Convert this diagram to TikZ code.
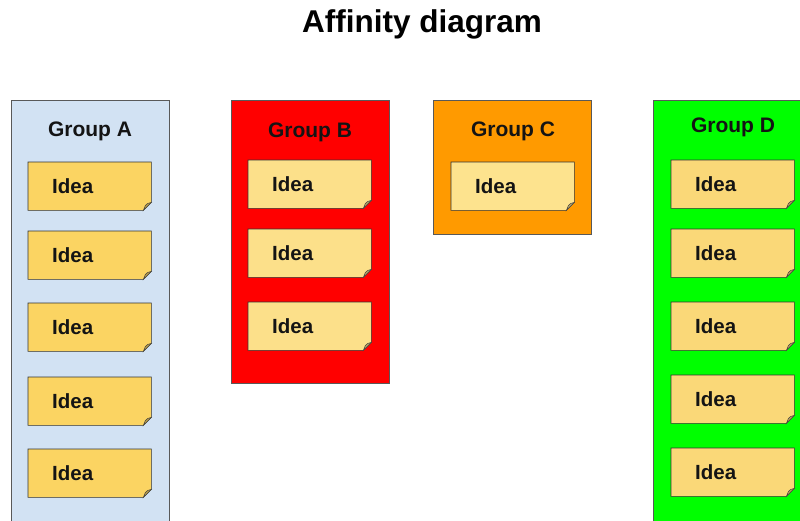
\documentclass[tikz,border=0pt]{standalone}
\usepackage{fontspec}
\setmainfont{Liberation Sans}
\begin{document}
\begin{tikzpicture}[x=1pt,y=-1pt,
  grpbox/.style={draw=black!65, line width=0.7pt, anchor=north west, inner sep=0pt},
  grptitle/.style={font=\bfseries\fontsize{21}{24}\selectfont, text=black!92},
  notebox/.style={anchor=north west, minimum width=123pt, minimum height=48pt,
    inner xsep=24pt, inner ysep=0pt, text width=75pt, align=left,
    font=\bfseries\fontsize{20.5}{24}\selectfont, text=black!92},
  noteedge/.style={draw=black!80, line width=0.6pt},
]
\definecolor{grpA}{HTML}{D2E2F3}
\definecolor{grpB}{HTML}{FF0000}
\definecolor{grpC}{HTML}{FF9A00}
\definecolor{grpD}{HTML}{00FF00}
\definecolor{noteA}{HTML}{FBD462}
\definecolor{noteB}{HTML}{FCE08A}
\definecolor{noteC}{HTML}{FDE38E}
\definecolor{noteD}{HTML}{FAD878}

% sticky note with a folded bottom-right corner
\newcommand{\stickynote}[4]{% name, x, y, colour
  \node[notebox] (#1) at (#2,#3) {Idea};
  \path[noteedge, fill=#4]
    (#1.north west) -- (#1.north east) -- ([yshift=8pt]#1.south east)
    -- ([xshift=-8pt]#1.south east) -- (#1.south west) -- cycle;
  \path[draw=black!75, line width=0.5pt, fill=#4!75!black]
    ([yshift=8pt]#1.south east)
    .. controls ([xshift=-4pt,yshift=7pt]#1.south east) .. ([xshift=-6pt,yshift=5pt]#1.south east)
    .. controls ([xshift=-7pt,yshift=3pt]#1.south east) .. ([xshift=-8pt]#1.south east) -- cycle;
  \node[notebox] at (#2,#3) {Idea};
}

\useasboundingbox (0,0) rectangle (800,520);
\clip (0,0) rectangle (800,520);
\fill[white] (0,0) rectangle (800,520);

\node[font=\bfseries\fontsize{31.5}{36}\selectfont] (title) at (422,24) {Affinity diagram};

% group panels
\node[grpbox, fill=grpA, minimum width=158pt, minimum height=440pt] (gA) at (11,100) {};
\node[grpbox, fill=grpB, minimum width=158pt, minimum height=283pt] (gB) at (231,100) {};
\node[grpbox, fill=grpC, minimum width=158pt, minimum height=134pt] (gC) at (433,100) {};
\node[grpbox, fill=grpD, minimum width=160pt, minimum height=440pt] (gD) at (653,100) {};

\node[grptitle] (tA) at (90,131) {Group A};
\node[grptitle] (tB) at (310,132) {Group B};
\node[grptitle] (tC) at (513,131) {Group C};
\node[grptitle] (tD) at (733,127) {Group D};

% notes, group A
\stickynote{a1}{28}{162}{noteA}
\stickynote{a2}{28}{231}{noteA}
\stickynote{a3}{28}{303}{noteA}
\stickynote{a4}{28}{377}{noteA}
\stickynote{a5}{28}{449}{noteA}
% group B
\stickynote{b1}{248}{160}{noteB}
\stickynote{b2}{248}{229}{noteB}
\stickynote{b3}{248}{302}{noteB}
% group C
\stickynote{c1}{451}{162}{noteC}
% group D
\stickynote{d1}{671}{160}{noteD}
\stickynote{d2}{671}{229}{noteD}
\stickynote{d3}{671}{302}{noteD}
\stickynote{d4}{671}{375}{noteD}
\stickynote{d5}{671}{448}{noteD}
\end{tikzpicture}
\end{document}
